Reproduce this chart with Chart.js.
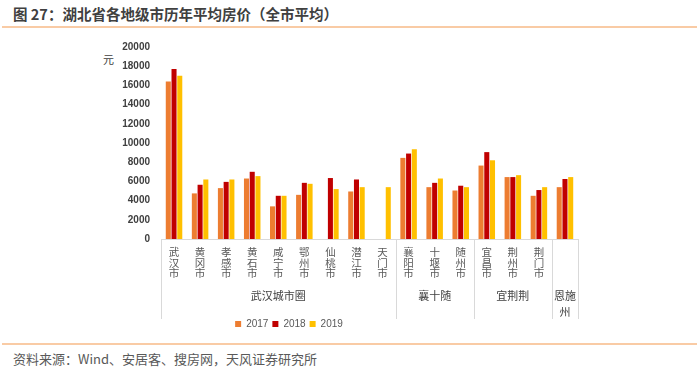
<!DOCTYPE html>
<html>
<head>
<meta charset="utf-8">
<script src="https://cdn.jsdelivr.net/npm/chart.js@4.4.0/dist/chart.umd.min.js"></script>
<style>
  body { margin: 0; width: 700px; height: 372px; background: #fff; position: relative; overflow: hidden;
         font-family: "Noto Sans CJK SC", sans-serif; }
  #title { position: absolute; left: 13px; top: 3px; font-size: 14.5px; font-weight: bold; color: #404040; white-space: nowrap; }
  .rule { position: absolute; left: 2px; width: 695px; height: 2px; background: #F9CBA5; }
  #unit { position: absolute; left: 103px; top: 51px; font-size: 11px; color: #404040; }
  #wrap { position: absolute; left: 0; top: 30px; width: 700px; height: 309px; }
  #source { position: absolute; left: 13px; top: 349px; font-size: 13px; color: #595959; white-space: nowrap; }
</style>
</head>
<body>
<div id="title">图 27：湖北省各地级市历年平均房价（全市平均）</div>
<div class="rule" style="top:26px"></div>
<div id="unit">元</div>
<div id="wrap"><canvas id="chart"></canvas></div>
<div class="rule" style="top:343px"></div>
<div id="source">资料来源：Wind、安居客、搜房网，天风证券研究所</div>

<script>
const cities = ['武汉市', '黄冈市', '孝感市', '黄石市', '咸宁市', '鄂州市', '仙桃市', '潜江市', '天门市',
                '襄阳市', '十堰市', '随州市', '宜昌市', '荆州市', '荆门市', ''];
const groupNames = ['武汉城市圈', '襄十随', '宜荆荆', ['恩施', '州']];
const groupSizes = [9, 3, 3, 1];

const price2017 = [16400, 4750, 5300, 6300, 3400, 4600, null, 4950, null, 8450, 5400, 5050, 7650, 6450, 4500, 5400];
const price2018 = [17700, 5650, 5950, 7000, 4500, 5850, 6350, 6200, null, 8900, 5850, 5550, 9050, 6450, 5100, 6250];
const price2019 = [17000, 6200, 6200, 6550, 4500, 5750, 5200, 5400, 5400, 9350, 6300, 5400, 8200, 6650, 5400, 6450];

const yTicksMax = 20000;
const yTickStep = 2000;

const groupPlugin = {
  id: 'groups',
  afterDraw(chart) {
    const { ctx, chartArea } = chart;
    const x = chart.scales.x;
    const bottom = chartArea.bottom;
    const half = (x.getPixelForValue(1) - x.getPixelForValue(0)) / 2;
    ctx.save();
    ctx.strokeStyle = '#D9D9D9';
    ctx.lineWidth = 1;
    ctx.beginPath();
    ctx.moveTo(chartArea.left, Math.round(bottom) + 0.5);
    ctx.lineTo(chartArea.right, Math.round(bottom) + 0.5);
    const edges = [x.getPixelForValue(0) - half];
    let idx = 0;
    groupSizes.forEach(n => {
      idx += n;
      edges.push(x.getPixelForValue(idx - 1) + half);
    });
    edges.forEach(px => {
      ctx.moveTo(Math.round(px) + 0.5, bottom);
      ctx.lineTo(Math.round(px) + 0.5, bottom + 80);
    });
    ctx.stroke();

    // group names
    ctx.fillStyle = '#404040';
    ctx.font = '11px "Noto Sans CJK SC"';
    ctx.textAlign = 'center';
    ctx.textBaseline = 'middle';
    idx = 0;
    groupNames.forEach((name, i) => {
      const cx = (x.getPixelForValue(idx) + x.getPixelForValue(idx + groupSizes[i] - 1)) / 2;
      const lines = Array.isArray(name) ? name : [name];
      lines.forEach((t, j) => ctx.fillText(t, cx, bottom + 57 + j * 16));
      idx += groupSizes[i];
    });
    ctx.restore();
  }
};

new Chart(document.getElementById('chart'), {
  type: 'bar',
  data: {
    labels: cities.map(c => c.split('')),
    datasets: [
      { label: '2017', data: price2017, backgroundColor: '#ED7D31' },
      { label: '2018', data: price2018, backgroundColor: '#C00000' },
      { label: '2019', data: price2019, backgroundColor: '#FFC000' }
    ]
  },
  options: {
    responsive: true,
    maintainAspectRatio: false,
    animation: false,
    layout: { padding: { top: 13, right: 122, left: 0, bottom: 0 } },
    datasets: { bar: { categoryPercentage: 0.66, barPercentage: 0.88 } },
    plugins: {
      legend: {
        position: 'bottom',
        labels: {
          boxWidth: 6, boxHeight: 6, padding: 4,
          color: '#595959',
          font: { family: '"Liberation Sans"', size: 10 }
        }
      },
      tooltip: { enabled: false }
    },
    scales: {
      x: {
        grid: { display: false, drawTicks: false },
        border: { display: false },
        ticks: {
          autoSkip: false, maxRotation: 0, padding: 8,
          color: '#595959',
          font: { family: '"Noto Sans CJK SC"', size: 10.5, lineHeight: 1.0 }
        },
        afterFit: s => { s.height = 76; }
      },
      y: {
        min: 0, max: yTicksMax,
        grid: { display: false, drawTicks: false },
        border: { display: false },
        ticks: {
          stepSize: yTickStep, padding: 11,
          color: '#404040',
          font: { family: '"Liberation Sans"', size: 10, weight: 'bold' },
          callback: v => String(v)
        },
        afterFit: s => { s.width = 161; }
      }
    }
  },
  plugins: [groupPlugin]
});
</script>
</body>
</html>
